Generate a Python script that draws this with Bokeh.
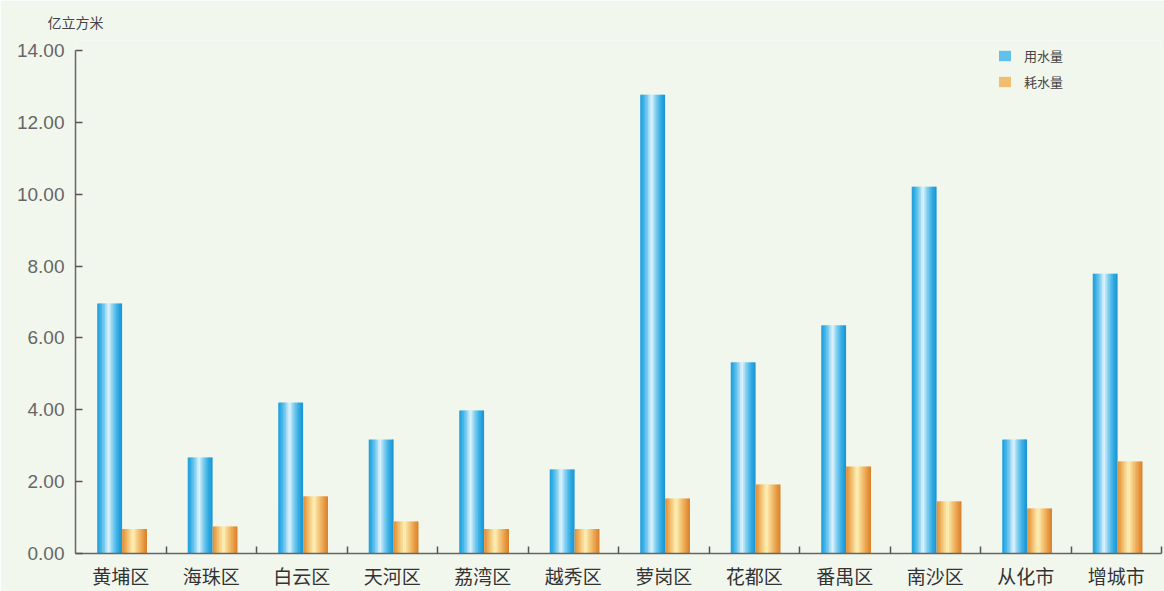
from bokeh.plotting import figure
from bokeh.models import (ColumnDataSource, FixedTicker, NumeralTickFormatter,
                          Legend, LegendItem, Range1d, Title)
from bokeh.embed import file_html
from bokeh.resources import INLINE

# Guangzhou districts: water use and water consumption (100 million m3)
districts = ["黄埔区", "海珠区", "白云区", "天河区", "荔湾区", "越秀区",
             "萝岗区", "花都区", "番禺区", "南沙区", "从化市", "增城市"]
water_use = [6.96, 2.67, 4.20, 3.17, 3.98, 2.34, 12.77, 5.32, 6.35, 10.21, 3.17, 7.79]
water_consumed = [0.68, 0.75, 1.59, 0.89, 0.68, 0.68, 1.53, 1.92, 2.42, 1.45, 1.25, 2.56]
series_names = ["用水量", "耗水量"]
y_ticks = [0, 2, 4, 6, 8, 10, 12, 14]
unit_label = "亿立方米"

BG = "#f2f7ee"
BAR_W = 0.275
N_STRIPS = 16

# horizontal colour profiles giving the bars a rounded, cylinder-like shading
BLUE_STOPS = [(0.0, "#1f9cd8"), (0.12, "#36afe6"), (0.30, "#84cff1"),
              (0.45, "#e3f5fd"), (0.60, "#8dd3f2"), (0.82, "#32ace4"), (1.0, "#1a93cf")]
ORANGE_STOPS = [(0.0, "#de8c36"), (0.12, "#eaa650"), (0.30, "#f6d189"),
                (0.44, "#fef1b8"), (0.60, "#f5cd82"), (0.82, "#e99f48"), (1.0, "#d97f28")]


def hex_to_rgb(h):
    h = h.lstrip("#")
    return tuple(int(h[i:i + 2], 16) for i in (0, 2, 4))


def color_at(stops, f):
    for (f0, c0), (f1, c1) in zip(stops[:-1], stops[1:]):
        if f0 <= f <= f1:
            t = (f - f0) / (f1 - f0) if f1 > f0 else 0
            a, b = hex_to_rgb(c0), hex_to_rgb(c1)
            rgb = [round(a[i] + (b[i] - a[i]) * t) for i in range(3)]
            return "#%02x%02x%02x" % tuple(rgb)
    return stops[-1][1]


centers = [i + 0.5 for i in range(len(districts))]

title = Title(text=unit_label, align="left", offset=-28, standoff=18,
              text_font="Noto Sans CJK SC", text_font_size="14px",
              text_font_style="normal", text_color="#444444")

# a little head-room above 14 keeps the legend clear of the frame edge;
# the axis itself is bounded to 0..14
p = figure(width=1164, height=591,
           x_range=Range1d(0, len(districts)), y_range=Range1d(0, 14.28),
           output_backend="svg", toolbar_location=None, title=title,
           min_border_left=75, min_border_right=3,
           min_border_top=40, min_border_bottom=38)
p.background_fill_color = BG
p.border_fill_color = BG
p.outline_line_color = None
p.grid.visible = False


def shaded_bars(values, left_offset, stops):
    """Draw one series as a row of narrow quads with a colour gradient."""
    step = BAR_W / N_STRIPS
    renderers = []
    for k in range(N_STRIPS):
        f = (k + 0.5) / N_STRIPS
        lefts = [c + left_offset + k * step for c in centers]
        rights = [min(l + step * 1.5, c + left_offset + BAR_W) for l, c in zip(lefts, centers)]
        src = ColumnDataSource(dict(left=lefts, right=rights, top=values,
                                    bottom=[0] * len(values)))
        r = p.quad(left="left", right="right", top="top", bottom="bottom", source=src,
                   fill_color=color_at(stops, f), line_color=None)
        renderers.append(r)
    return renderers


use_r = shaded_bars(water_use, -0.26, BLUE_STOPS)
con_r = shaded_bars(water_consumed, 0.015, ORANGE_STOPS)

# x axis: district names under each group, small ticks between groups
xa = p.xaxis[0]
xa.ticker = FixedTicker(ticks=centers, minor_ticks=list(range(1, len(districts) + 1)))
xa.major_label_overrides = {c: d for c, d in zip(centers, districts)}
xa.major_tick_in = 0
xa.major_tick_out = 0
xa.minor_tick_in = 7
xa.minor_tick_out = 0
xa.minor_tick_line_color = "#555555"
xa.minor_tick_line_width = 1.5
xa.axis_line_color = "#666666"
xa.axis_line_width = 1.5
xa.major_label_text_font = "Noto Sans CJK SC"
xa.major_label_text_font_size = "19px"
xa.major_label_text_color = "#333333"
xa.major_label_standoff = 8

ya = p.yaxis[0]
ya.bounds = (0, 14)
ya.ticker = FixedTicker(ticks=y_ticks)
ya.formatter = NumeralTickFormatter(format="0.00")
ya.major_tick_in = 7
ya.major_tick_out = 0
ya.minor_tick_line_color = None
ya.major_tick_line_color = "#555555"
ya.major_tick_line_width = 1.5
ya.axis_line_color = "#666666"
ya.axis_line_width = 1.5
ya.major_label_text_font = "Liberation Sans"
ya.major_label_text_font_size = "19px"
ya.major_label_text_color = "#666666"
ya.major_label_standoff = 11

legend = Legend(items=[LegendItem(label=series_names[0], renderers=[use_r[3]]),
                       LegendItem(label=series_names[1], renderers=[con_r[3]])],
                location=(922, 462), orientation="vertical",
                glyph_width=15, glyph_height=13, label_height=14,
                label_standoff=12, spacing=7, padding=0, margin=0,
                border_line_color=None, background_fill_alpha=0,
                label_text_font="Noto Sans CJK SC", label_text_font_size="13px",
                label_text_color="#444444")
p.add_layout(legend)

open("out.html", "w").write(file_html(p, INLINE))
